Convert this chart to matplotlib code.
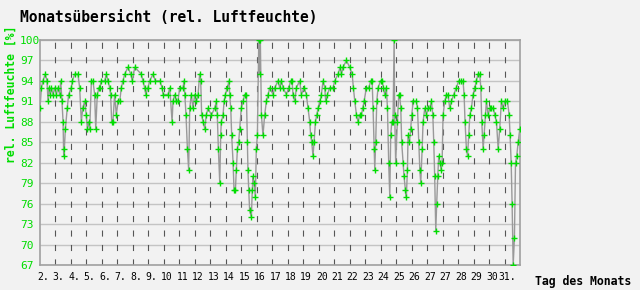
import numpy as np
import matplotlib

matplotlib.use("Agg")
import matplotlib.pyplot as plt
import matplotlib.transforms as mtransforms

# time in days since start of chart (0 = day "2."), relative humidity in %
t_days = [
    0.00, 0.09, 0.19, 0.34, 0.45, 0.52, 0.58, 0.67, 0.73, 0.84, 0.95, 1.05, 1.16, 1.27,
    1.34, 1.42, 1.49, 1.53, 1.57, 1.64, 1.76, 1.85, 2.02, 2.09, 2.24, 2.45, 2.56, 2.67,
    2.76, 2.88, 2.99, 3.06, 3.14, 3.21, 3.32, 3.42, 3.53, 3.60, 3.70, 3.81,
    3.85, 3.96, 4.18, 4.28, 4.39, 4.50, 4.56, 4.63, 4.71, 4.82, 4.93, 5.04, 5.15, 5.25,
    5.36, 5.47, 5.68, 5.86, 5.96, 6.12, 6.54, 6.65, 6.76, 6.83, 6.97, 7.08, 7.30, 7.45, 7.75,
    7.88, 7.95, 8.27, 8.38, 8.53, 8.59, 8.70, 8.81, 8.91, 9.02, 9.24, 9.30, 9.35, 9.43,
    9.52, 9.60, 9.67, 9.77, 9.88, 9.99, 10.10, 10.21, 10.31, 10.38, 10.44, 10.53, 10.64,
    10.74, 10.85, 11.07, 11.28, 11.39, 11.45, 11.52, 11.61,
    11.67, 11.71, 11.82, 11.89, 11.97, 12.10, 12.21, 12.25, 12.32, 12.38, 12.47, 12.53,
    12.62, 12.68, 12.75, 12.83, 12.90, 13.00, 13.11, 13.22, 13.33, 13.39, 13.43, 13.48,
    13.54, 13.65, 13.71, 13.76, 13.82, 13.91, 13.97, 14.04, 14.13, 14.19, 14.23, 14.30,
    14.40, 14.51, 14.62, 14.73, 14.84, 15.05, 15.16, 15.37, 15.48,
    15.59, 15.70, 15.91, 16.06, 16.19, 16.28, 16.34, 16.45, 16.56, 16.77, 16.88, 17.06,
    17.20, 17.31, 17.42, 17.48, 17.55, 17.63, 17.70, 17.79, 17.87, 17.96, 18.07, 18.17,
    18.28, 18.39, 18.45, 18.56, 18.71, 18.93, 19.03, 19.25, 19.38,
    19.47, 19.57, 19.79, 20.00, 20.16, 20.24, 20.33, 20.44, 20.54, 20.65, 20.76, 20.84,
    20.93, 21.08, 21.23, 21.36, 21.45, 21.51, 21.58, 21.62, 21.68, 21.75, 21.83, 22.00,
    22.09, 22.18, 22.26, 22.37, 22.44, 22.52, 22.59, 22.65, 22.72, 22.80, 22.87, 22.91,
    22.97, 23.08, 23.17,
    23.23, 23.30, 23.36, 23.45, 23.51, 23.60, 23.66, 23.73, 23.77, 23.86, 23.94, 24.01,
    24.10, 24.31, 24.38, 24.46, 24.53, 24.59, 24.68, 24.74, 24.85, 24.96, 25.06, 25.17,
    25.28, 25.37, 25.43, 25.49, 25.56, 25.62, 25.69, 25.75, 25.84, 25.90, 25.97, 26.03,
    26.14, 26.25, 26.35, 26.46, 26.57, 26.72, 26.89, 27.04,
    27.22, 27.32, 27.39, 27.45, 27.54, 27.61, 27.69, 27.76, 27.86, 27.97, 28.08, 28.18,
    28.29, 28.40, 28.47, 28.53, 28.62, 28.68, 28.77, 28.83, 28.94, 29.05, 29.15, 29.28,
    29.37, 29.48, 29.59, 29.69, 29.80, 29.91, 30.02, 30.19, 30.30, 30.36, 30.43, 30.49,
    30.56, 30.64, 30.71, 30.79, 30.88, 30.99,
]
humidity = [
    90, 93, 94, 95, 94, 91, 93, 92, 93, 92, 93, 92, 93, 92,
    94, 91, 88, 83, 84, 87, 90, 92, 93, 94, 95, 95, 93, 88,
    90, 91, 89, 87, 88, 87, 94, 94, 92, 87, 92, 93,
    93, 94, 94, 95, 94, 93, 92, 88, 88, 92, 89, 91, 91, 93,
    94, 95, 96, 95, 94, 96, 95, 94, 93, 92, 93, 94, 95, 94, 94,
    93, 92, 92, 93, 88, 91, 92, 91, 91, 93, 93, 94, 92, 89,
    84, 81, 90, 92, 90, 92, 91, 92, 95, 94, 89, 88, 87,
    89, 90, 89, 90, 91, 89, 84, 79,
    86, 88, 89, 91, 92, 93, 94, 92, 90, 86, 82, 78,
    78, 81, 84, 85, 87, 90, 91, 92, 92, 85, 81, 78,
    75, 74, 78, 80, 79, 77, 84, 86, 100, 95, 100, 89,
    86, 89, 91, 92, 93, 92, 93, 94, 93,
    94, 93, 92, 93, 94, 94, 92, 91, 93, 94, 92, 93,
    92, 90, 88, 86, 85, 83, 85, 88, 89, 90, 91, 92,
    94, 93, 91, 92, 93, 93, 94, 95, 96,
    95, 96, 97, 96, 95, 93, 91, 89, 88, 89, 89, 90,
    91, 93, 93, 94, 94, 90, 84, 81, 85, 91, 93, 94,
    94, 93, 92, 93, 90, 82, 77, 86, 88, 88, 100, 89,
    82, 88, 92,
    92, 90, 85, 82, 80, 78, 77, 81, 86, 85, 87, 89,
    91, 91, 90, 85, 81, 79, 84, 88, 90, 89, 90, 90,
    91, 89, 85, 80, 72, 76, 80, 83, 82, 81, 82, 89,
    91, 92, 92, 90, 91, 92, 93, 94,
    94, 94, 92, 88, 84, 83, 86, 89, 90, 92, 93, 94,
    95, 95, 93, 88, 84, 86, 89, 91, 89, 90, 90, 90,
    89, 88, 84, 87, 91, 90, 91, 91, 89, 86, 82, 76,
    67, 71, 82, 83, 85, 87,
]
day_labels = ["2.", "3.", "4.", "5.", "6.", "7.", "8.", "9.", "10", "11", "12", "13",
              "14", "15", "16", "17", "18", "19", "20", "21", "22", "23", "24", "25",
              "26", "27", "27", "28", "29", "30", "31."]
y_ticks = [67, 70, 73, 76, 79, 82, 85, 88, 91, 94, 97, 100]

BG = "#f2f2f2"
GREEN = "#00dd00"
MONO = "DejaVu Sans Mono"

fig = plt.figure(figsize=(6.4, 2.9), dpi=100, facecolor=BG)
ax = fig.add_axes([40 / 640, 25 / 290, 480 / 640, 225 / 290], facecolor=BG)

ax.set_xlim(0, 31)
ax.set_ylim(67, 100)

for y in y_ticks:
    ax.axhline(y, color="#c4c4c4", lw=1.0, zorder=1)
for d in range(1, len(day_labels)):
    ax.axvline(d, color="#555555", lw=0.8, dashes=(5.5, 7.5), zorder=1)

ax.plot(t_days, humidity, color="#999999", lw=1.0, zorder=2, clip_on=True)
ax.plot(t_days, humidity, linestyle="none", marker="+", ms=4, mew=1.0,
        color=GREEN, zorder=3, clip_on=True)

for s in ax.spines.values():
    s.set_color("#a0a0a0")
    s.set_linewidth(1.2)

ax.set_yticks(y_ticks)
ax.set_yticklabels([str(v) for v in y_ticks], family=MONO, fontsize=8, color=GREEN)
ax.tick_params(axis="y", length=0, pad=14.4)
for lab in ax.get_yticklabels():
    lab.set_ha("left")

ax.set_xticks(range(len(day_labels)))
ax.set_xticklabels(day_labels, family=MONO, fontsize=7, color="black")
ax.tick_params(axis="x", length=0, pad=5)
offset = mtransforms.ScaledTranslation(3 / 100, 0, fig.dpi_scale_trans)
for lab in ax.get_xticklabels():
    lab.set_transform(lab.get_transform() + offset)

fig.text(20 / 640, 1 - 18 / 290, "Monatsübersicht (rel. Luftfeuchte)", family=MONO,
         fontsize=10.5, fontweight="bold", color="black", ha="left", va="center")
fig.text(11 / 640, 1 - 94 / 290, "rel. Luftfeuchte [%]", family=MONO, fontsize=8.3,
         fontweight="bold", color=GREEN, rotation=90, ha="center", va="center")
fig.text(535 / 640, 1 - 282 / 290, "Tag des Monats", family=MONO, fontsize=8.3,
         fontweight="bold", color="black", ha="left", va="center")

fig.savefig("out.png", dpi=100, facecolor=BG)
